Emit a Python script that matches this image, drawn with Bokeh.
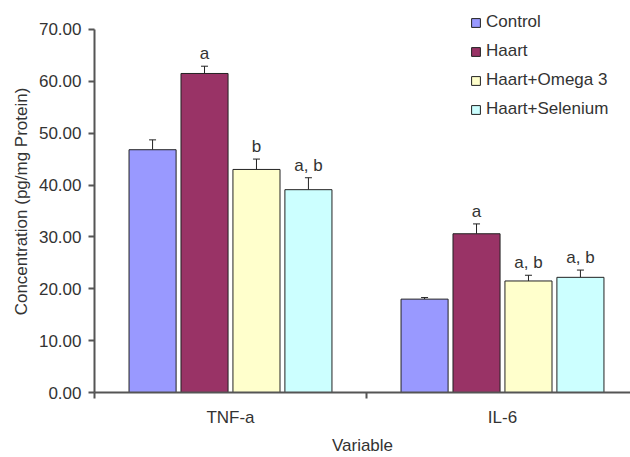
from bokeh.plotting import figure
from bokeh.models import (ColumnDataSource, Range1d, FixedTicker, NumeralTickFormatter,
                          Legend, LegendItem, Whisker, TeeHead, LabelSet)
from bokeh.embed import file_html
from bokeh.resources import INLINE
from bokeh.core.properties import value

categories = ["TNF-a", "IL-6"]
groups = ["Control", "Haart", "Haart+Omega 3", "Haart+Selenium"]
control = [46.8, 18.0]
haart = [61.5, 30.6]
omega3 = [43.0, 21.5]
selenium = [39.1, 22.2]
control_err = [1.9, 0.3]
haart_err = [1.4, 1.9]
omega3_err = [2.0, 1.1]
selenium_err = [2.3, 1.4]
control_sig = ["", ""]
haart_sig = ["a", "a"]
omega3_sig = ["b", "a, b"]
selenium_sig = ["a, b", "a, b"]
colors = ["#9999FF", "#993366", "#FFFFCC", "#CCFFFF"]

series = [control, haart, omega3, selenium]
errors = [control_err, haart_err, omega3_err, selenium_err]
sigs = [control_sig, haart_sig, omega3_sig, selenium_sig]

FONT = "Liberation Sans"
TXT = "#333333"
AX = "#555555"

p = figure(width=630, height=457, output_backend="svg", toolbar_location=None,
           x_range=Range1d(0, 536 / 272), y_range=Range1d(0, 73.64),
           min_border_left=94, min_border_right=0, min_border_top=10, min_border_bottom=63)
p.xgrid.visible = False
p.ygrid.visible = False
p.outline_line_color = None

step = 0.191
width = 0.173
renderers = []
for gi, (vals, errs, sg, col, name) in enumerate(zip(series, errors, sigs, colors, groups)):
    off = (gi - 1.5) * step
    xs = [ci + 0.5 + off for ci in range(len(categories))]
    ups = [v + e for v, e in zip(vals, errs)]
    src = ColumnDataSource(dict(x=xs, top=vals, upper=ups, sig=sg))
    r = p.vbar(x="x", top="top", width=width, source=src, fill_color=col,
               line_color="#222222", line_width=1)
    renderers.append((name, r))
    w = Whisker(base="x", lower="top", upper="upper", source=src, dimension="height",
                line_color="#222222", line_width=1,
                upper_head=TeeHead(size=7, line_color="#222222", line_width=1),
                lower_head=None)
    p.add_layout(w)
    lbl = LabelSet(x="x", y="upper", text="sig", source=src, text_align="center",
                   text_baseline="alphabetic", y_offset=7, text_font=value(FONT),
                   text_font_size="17px", text_color=TXT)
    p.add_layout(lbl)

# y axis
ya = p.yaxis[0]
ya.ticker = FixedTicker(ticks=[0, 10, 20, 30, 40, 50, 60, 70])
ya.formatter = NumeralTickFormatter(format="0.00")
ya.bounds = (0, 70)
ya.axis_label = "Concentration (pg/mg Protein)"
ya.axis_label_text_font = FONT
ya.axis_label_text_font_size = "17px"
ya.axis_label_text_font_style = "normal"
ya.axis_label_text_color = TXT
ya.axis_label_standoff = 5
ya.major_label_text_font = FONT
ya.major_label_text_font_size = "17px"
ya.major_label_text_color = TXT
ya.major_label_standoff = 7
ya.major_tick_out = 6
ya.major_tick_in = 0
ya.minor_tick_out = 0
ya.minor_tick_in = 0
ya.axis_line_color = AX
ya.axis_line_width = 2
ya.major_tick_line_color = AX
ya.major_tick_line_width = 2

# x axis
xa = p.xaxis[0]
xa.ticker = FixedTicker(ticks=[0.5, 1.5], minor_ticks=[0, 1, 2])
xa.major_label_overrides = {0.5: categories[0], 1.5: categories[1]}
xa.axis_label = "Variable"
xa.axis_label_text_font = FONT
xa.axis_label_text_font_size = "17px"
xa.axis_label_text_font_style = "normal"
xa.axis_label_text_color = TXT
xa.axis_label_standoff = 6
xa.major_label_text_font = FONT
xa.major_label_text_font_size = "17px"
xa.major_label_text_color = TXT
xa.major_label_standoff = 9
xa.major_tick_out = 0
xa.major_tick_in = 0
xa.minor_tick_out = 6
xa.minor_tick_in = 0
xa.minor_tick_line_color = AX
xa.minor_tick_line_width = 2
xa.axis_line_color = AX
xa.axis_line_width = 2

legend = Legend(items=[LegendItem(label=n, renderers=[r]) for n, r in renderers],
                location=(376, 273), orientation="vertical",
                label_text_font=FONT, label_text_font_size="17px", label_text_color=TXT,
                glyph_width=11, glyph_height=11, label_height=20, spacing=9,
                padding=0, margin=0, label_standoff=5,
                background_fill_alpha=0, border_line_alpha=0)
p.add_layout(legend)

open("out.html", "w").write(file_html(p, INLINE))
